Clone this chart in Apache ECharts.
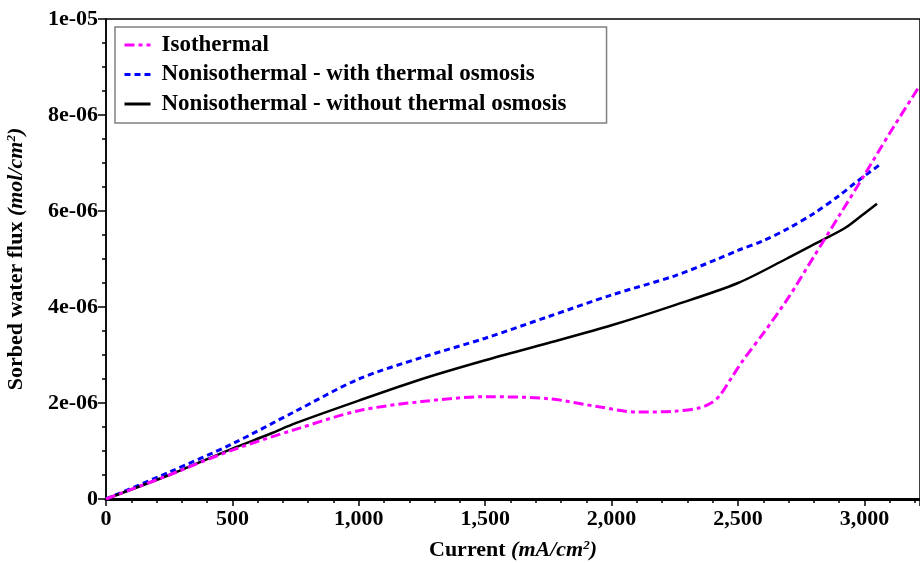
<!DOCTYPE html>
<html><head><meta charset="utf-8">
<script src="https://cdn.jsdelivr.net/npm/echarts@6/dist/echarts.min.js"></script>
<style>html,body{margin:0;padding:0;background:#fff}#c{width:920px;height:563px}</style>
</head><body><div id="c"></div>
<script>
// Data (current in mA/cm^2, flux in mol/cm^2)
const isoX = [0, 100, 250, 500, 750, 1000, 1250, 1500, 1750, 1950, 2100, 2250, 2350, 2400, 2430, 2475, 2520, 2600, 2700, 2800, 2900, 3000, 3100, 3220];
const isoY = [0, 0.2e-6, 0.5e-6, 1.02e-6, 1.45e-6, 1.84e-6, 2.03e-6, 2.13e-6, 2.09e-6, 1.92e-6, 1.81e-6, 1.83e-6, 1.9e-6, 2.02e-6, 2.17e-6, 2.53e-6, 2.89e-6, 3.45e-6, 4.2e-6, 5.05e-6, 5.9e-6, 6.75e-6, 7.62e-6, 8.62e-6];
const withX = [0, 250, 500, 750, 1000, 1250, 1500, 1750, 2000, 2250, 2420, 2500, 2600, 2700, 2800, 2900, 2965, 3070];
const withY = [0, 0.56e-6, 1.15e-6, 1.83e-6, 2.5e-6, 2.95e-6, 3.35e-6, 3.8e-6, 4.25e-6, 4.65e-6, 5.0e-6, 5.18e-6, 5.38e-6, 5.64e-6, 5.95e-6, 6.32e-6, 6.59e-6, 7.0e-6];
const woX = [0, 250, 500, 650, 750, 1000, 1250, 1500, 1750, 2000, 2250, 2500, 2690, 2810, 2925, 3000, 3050];
const woY = [0, 0.5e-6, 1.05e-6, 1.36e-6, 1.58e-6, 2.05e-6, 2.5e-6, 2.89e-6, 3.25e-6, 3.62e-6, 4.04e-6, 4.5e-6, 5.0e-6, 5.33e-6, 5.65e-6, 5.95e-6, 6.15e-6];
const seriesNames = ['Isothermal', 'Nonisothermal - with thermal osmosis', 'Nonisothermal - without thermal osmosis'];
const yTickLabels = {0: '0', 2: '2e-06', 4: '4e-06', 6: '6e-06', 8: '8e-06', 10: '1e-05'};

const zip = (xs, ys) => xs.map((x, i) => [x, ys[i]]);
const FONT = '"Liberation Serif", "Times New Roman", serif';
const rich = {
  b: {fontFamily: FONT, fontWeight: 'bold', fontSize: 22, color: '#000'},
  i: {fontFamily: FONT, fontWeight: 'bold', fontStyle: 'italic', fontSize: 22, color: '#000'},
  s: {fontFamily: FONT, fontWeight: 'bold', fontStyle: 'italic', fontSize: 13, color: '#000', padding: [0, 0, 10, 0]}
};

const chart = echarts.init(document.getElementById('c'), null, {renderer: 'canvas'});
chart.setOption({
  animation: false,
  backgroundColor: '#fff',
  grid: {left: 106, right: 0, top: 19, bottom: 64, containLabel: false, outerBoundsMode: 'none',
    show: true, borderColor: '#000', borderWidth: 1.5},
  legend: {
    left: 115, top: 27, orient: 'vertical',
    padding: [6, 40, 7, 8],
    borderColor: '#808080', borderWidth: 1.5, backgroundColor: '#fff',
    itemWidth: 26, itemHeight: 14, itemGap: 5.5,
    itemStyle: {opacity: 0, borderWidth: 0},
    lineStyle: {width: 3},
    textStyle: {fontFamily: FONT, fontWeight: 'bold', fontSize: 23, color: '#000', lineHeight: 24, padding: [0, 0, 0, 6]},
    data: seriesNames
  },
  xAxis: {
    type: 'value', min: 0, max: 3220, interval: 500,
    name: '{b|Current }{i|(mA/cm}{s|2}{i|)}', nameLocation: 'middle', nameGap: 40,
    nameTextStyle: {rich: rich},
    axisLine: {show: true, lineStyle: {color: '#000', width: 3}},
    axisTick: {show: true, length: 7, lineStyle: {color: '#000', width: 1.5}},
    minorTick: {show: true, splitNumber: 5, length: 4, lineStyle: {color: '#000', width: 1.5}},
    splitLine: {show: false},
    axisLabel: {fontFamily: FONT, fontWeight: 'bold', fontSize: 22, color: '#000', margin: 9,
      showMaxLabel: false, formatter: v => v.toLocaleString('en-US')}
  },
  yAxis: {
    type: 'value', min: 0, max: 1e-5, interval: 2e-6, offset: 3,
    name: '{b|Sorbed water flux }{i|(mol/cm}{s|2}{i|)}', nameLocation: 'middle', nameGap: 75,
    nameTextStyle: {rich: rich},
    axisLine: {show: true, lineStyle: {color: '#000', width: 1.5}},
    axisTick: {show: true, length: 8, lineStyle: {color: '#000', width: 1.5}},
    minorTick: {show: true, splitNumber: 4, length: 4, lineStyle: {color: '#000', width: 1.5}},
    splitLine: {show: false},
    axisLabel: {fontFamily: FONT, fontWeight: 'bold', fontSize: 22, color: '#000', margin: 5,
      formatter: v => yTickLabels[Math.round(v * 1e6)] ?? ''}
  },
  series: [
    {name: seriesNames[0], type: 'line', symbol: 'none', smooth: 0.3, data: zip(isoX, isoY), z: 3,
      itemStyle: {color: '#ff00ff'}, lineStyle: {color: '#ff00ff', width: 3, type: [10, 4, 4, 4]}},
    {name: seriesNames[1], type: 'line', symbol: 'none', smooth: 0.3, data: zip(withX, withY), z: 2,
      itemStyle: {color: '#0000ff'}, lineStyle: {color: '#0000ff', width: 3, type: [6, 4]}},
    {name: seriesNames[2], type: 'line', symbol: 'none', smooth: 0.3, data: zip(woX, woY), z: 2,
      itemStyle: {color: '#000'}, lineStyle: {color: '#000', width: 2.5, type: 'solid'}}
  ]
});
</script></body></html>
